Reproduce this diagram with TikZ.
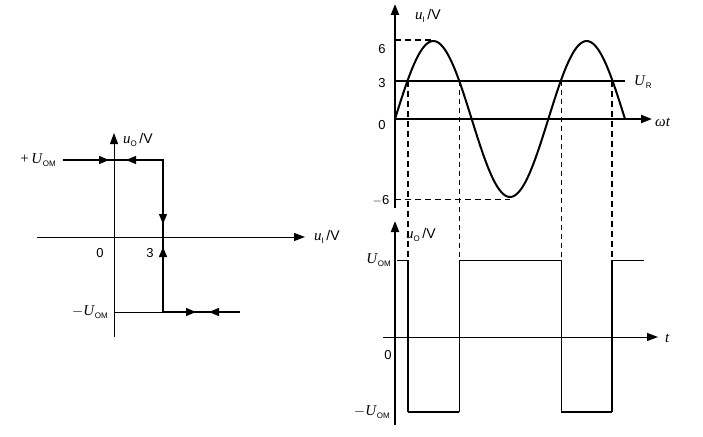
\documentclass[tikz,border=0pt]{standalone}
\usepackage{fontspec}
\setmainfont{Liberation Serif}
\newfontfamily\sansf{Liberation Sans}
\usetikzlibrary{arrows.meta}
\newcommand{\subs}[1]{\raisebox{-0.45ex}{\sansf\fontsize{8}{8}\selectfont #1}}
\begin{document}
\begin{tikzpicture}[x=1pt,y=-1pt,
  axthin/.style={line width=1pt,-{Triangle[length=11pt,width=8pt]}},
  axthick/.style={line width=2pt,-{Triangle[length=11pt,width=8pt]}},
  curve/.style={line width=1.3pt},
  midarr/.style={line width=1.3pt,-{Triangle[length=10pt,width=8pt]}},
  lbl/.style={inner sep=0pt,font=\fontsize{15}{15}\selectfont},
  num/.style={inner sep=0pt,font=\sansf\fontsize{13}{13}\selectfont},
  dthin/.style={line width=0.8pt,dash pattern=on 5pt off 4pt},
  dthick/.style={line width=2pt,dash pattern=on 6pt off 4pt},
  sqthin/.style={line width=0.9pt},
  sqthick/.style={line width=2pt},
  sqmed/.style={line width=1.5pt}
]
\useasboundingbox (0,0) rectangle (703,436);
% ---------------- left graph ----------------
\coordinate (LyB) at (114,337); \coordinate (LyT) at (114,133);
\coordinate (LxL) at (37,237);  \coordinate (LxR) at (305,237);
\draw[axthin] (LyB) -- (LyT);
\draw[axthin] (LxL) -- (LxR);
\coordinate (P1) at (63,160); \coordinate (P2) at (163,160);
\coordinate (P3) at (163,312); \coordinate (P4) at (114,312);
\coordinate (P5) at (240,312);
\draw[curve] (P1) -- (P2) -- (P3);
\draw[line width=0.9pt] (P4) -- (P3);
\draw[line width=2pt] (P3) -- (P5);
\coordinate (a1s) at (96,160);  \coordinate (a1e) at (109,160);
\coordinate (a2s) at (139,160); \coordinate (a2e) at (126,160);
\coordinate (a3s) at (163,211); \coordinate (a3e) at (163,224);
\coordinate (a4s) at (163,260); \coordinate (a4e) at (163,247);
\coordinate (a5s) at (183,312); \coordinate (a5e) at (196,312);
\coordinate (a6s) at (222,312); \coordinate (a6e) at (209,312);
\draw[midarr] (a1s) -- (a1e);
\draw[midarr] (a2s) -- (a2e);
\draw[midarr] (a3s) -- (a3e);
\draw[midarr] (a4s) -- (a4e);
\draw[midarr] (a5s) -- (a5e);
\draw[midarr] (a6s) -- (a6e);
\node[lbl,anchor=east] (lUp) at (56,160) {+\,\textit{U}\subs{OM}};
\node[lbl,anchor=east] (lUm) at (108,312) {$-$\textit{U}\subs{OM}};
\node[lbl,anchor=west] (luo) at (123,140) {\textit{u}\subs{O}\,{\sansf\fontsize{14}{14}\selectfont /V}};
\node[lbl,anchor=west] (lui) at (314,237) {\textit{u}\subs{I}\,{\sansf\fontsize{14}{14}\selectfont /V}};
\node[num] (l0) at (100,253) {0};
\node[num] (l3) at (150,253) {3};
% ---------------- right top graph ----------------
\coordinate (TyB) at (395,208); \coordinate (TyT) at (395,4);
\coordinate (TxL) at (395,119); \coordinate (TxR) at (652,119);
\draw[axthick] (TyB) -- (TyT);
\draw[axthick] (TxL) -- (TxR);
\coordinate (URl) at (395,81); \coordinate (URr) at (625,81);
\draw[line width=2pt] (URl) -- (URr);
\draw[line width=2pt] plot[smooth,domain=0:540,samples=109] ({395+\x/360*153.33},{119-78*sin(\x)});
\coordinate (d6l) at (395,40);  \coordinate (d6r) at (433,40);
\coordinate (dm6l) at (395,199); \coordinate (dm6r) at (510,199);
\draw[line width=1.3pt,dash pattern=on 6pt off 4pt] (d6l) -- (d6r);
\draw[line width=0.9pt,dash pattern=on 6pt off 4pt] (dm6l) -- (dm6r);
\coordinate (v1t) at (408,81);  \coordinate (v1b) at (408,260);
\coordinate (v2t) at (459,81);  \coordinate (v2b) at (459,260);
\coordinate (v3t) at (561,81);  \coordinate (v3b) at (561,260);
\coordinate (v4t) at (612,81);  \coordinate (v4b) at (612,260);
\draw[dthick] (v1t) -- (v1b);
\draw[dthin] (v2t) -- (v2b);
\draw[dthin] (v3t) -- (v3b);
\draw[dthick] (v4t) -- (v4b);
\node[num] (t6) at (382,49) {6};
\node[num] (t3) at (382,83) {3};
\node[num] (t0) at (382,125) {0};
\node[num] (tm6) at (381,200) {$-$6};
\node[lbl,anchor=west] (tui) at (415,16) {\textit{u}\subs{I}\,{\sansf\fontsize{14}{14}\selectfont /V}};
\node[lbl,anchor=west] (tUR) at (634,82) {\textit{U}\subs{R}};
\node[lbl,anchor=west] (twt) at (655,122) {\textit{ωt}};
% ---------------- right bottom graph ----------------
\coordinate (ByB) at (395,425); \coordinate (ByT) at (395,221);
\coordinate (BxL) at (383,337); \coordinate (BxR) at (658,337);
\draw[axthick] (ByB) -- (ByT);
\draw[axthin] (BxL) -- (BxR);
\coordinate (s0) at (397,260); \coordinate (s1) at (408,260);
\coordinate (s2) at (408,412); \coordinate (s3) at (459,412);
\coordinate (s4) at (459,260); \coordinate (s5) at (561,260);
\coordinate (s6) at (561,412); \coordinate (s7) at (612,412);
\coordinate (s8) at (612,260); \coordinate (s9) at (644,260);
\draw[sqthin] (s0) -- (s1);
\draw[sqthick] (s1) -- (s2);
\draw[sqmed] (s2) -- (s3);
\draw[sqthin] (s3) -- (s4) -- (s5) -- (s6);
\draw[sqmed] (s6) -- (s7);
\draw[sqthick] (s7) -- (s8);
\draw[sqthin] (s8) -- (s9);
\node[lbl,anchor=east] (bUp) at (391,260) {\textit{U}\subs{OM}};
\node[lbl,anchor=east] (bUm) at (390,412) {$-$\textit{U}\subs{OM}};
\node[num] (b0) at (388,355) {0};
\node[lbl,anchor=west] (buo) at (406,235) {\textit{u}\subs{O}\,{\sansf\fontsize{14}{14}\selectfont /V}};
\node[lbl,anchor=west] (bt) at (665,338) {\textit{t}};
\end{tikzpicture}
\end{document}
